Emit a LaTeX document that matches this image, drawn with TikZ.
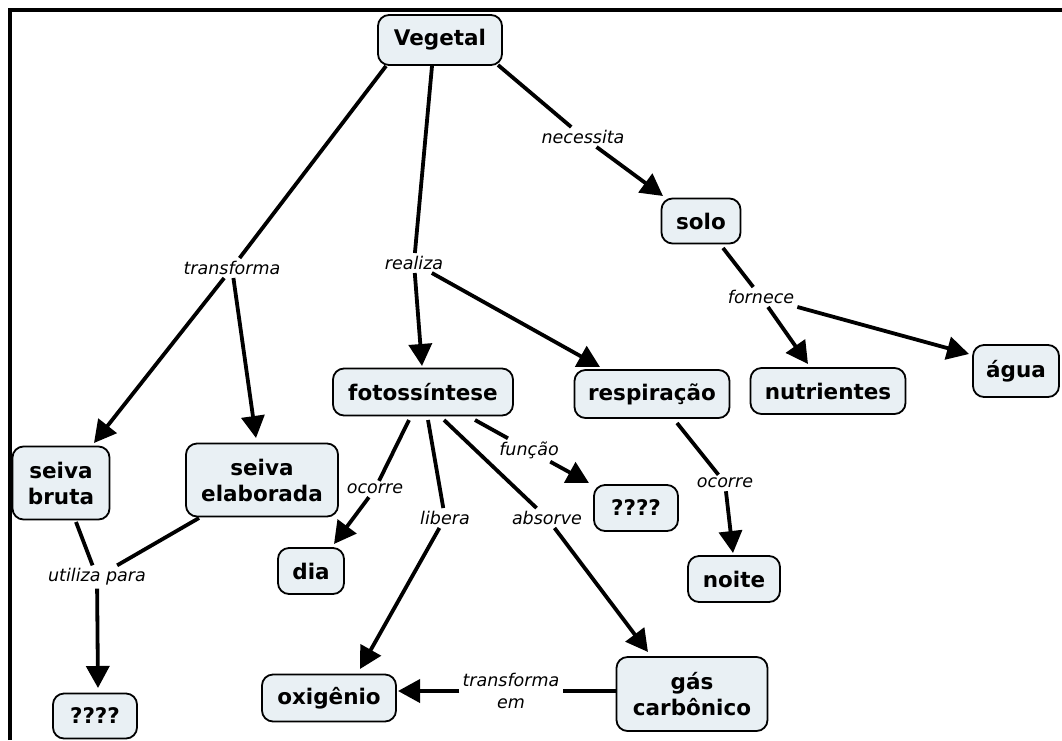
\documentclass[tikz,border=0pt]{standalone}
\usepackage{fontspec}
\setmainfont{DejaVu Sans}
\usetikzlibrary{arrows.meta}
\definecolor{boxfill}{RGB}{233,240,244}
\begin{document}
\begin{tikzpicture}[x=1pt,y=-1pt,
  concept/.style={draw=black, line width=1.8pt, fill=boxfill, rounded corners=11pt,
    align=center, inner sep=0pt, font=\fontsize{21.5}{26}\selectfont\bfseries},
  linkword/.style={font=\fontsize{17.5}{22}\selectfont\itshape, inner sep=3pt, align=center},
  conn/.style={line width=3.8pt},
  arr/.style={conn, -{Triangle[length=22pt,width=23pt]}}]
\useasboundingbox (0,0) rectangle (1062,740);

% frame along the top and left edges
\draw[line width=4pt] (10,740) -- (10,9.5) -- (1062,9.5);

% concepts
\node[concept, minimum width=124pt, minimum height=50pt] (veg)    at (440,40)  {Vegetal};
\node[concept, minimum width=79pt,  minimum height=45pt] (solo)   at (701,221) {solo};
\node[concept, minimum width=86pt,  minimum height=52pt] (agua)   at (1016,371) {água};
\node[concept, minimum width=155pt, minimum height=46pt] (nutr)   at (828,391) {nutrientes};
\node[concept, minimum width=155pt, minimum height=48pt] (resp)   at (652,394) {respiração};
\node[concept, minimum width=180pt, minimum height=47pt] (foto)   at (423,392) {fotossíntese};
\node[concept, minimum width=97pt,  minimum height=73pt] (sbruta) at (61,483)  {seiva\\bruta};
\node[concept, minimum width=152pt, minimum height=73pt] (selab)  at (262,480) {seiva\\elaborada};
\node[concept, minimum width=66pt,  minimum height=46pt] (dia)    at (311,571) {dia};
\node[concept, minimum width=84pt,  minimum height=46pt] (qfun)   at (636,508) {????};
\node[concept, minimum width=92pt,  minimum height=46pt] (noite)  at (734,579) {noite};
\node[concept, minimum width=84pt,  minimum height=45pt] (quso)   at (95,716)  {????};
\node[concept, minimum width=134pt, minimum height=47pt] (oxig)   at (329,698) {oxigênio};
\node[concept, minimum width=151pt, minimum height=74pt] (gas)    at (692,694) {gás\\carbônico};

% linking phrases
\node[linkword] (lnec)  at (583,137) {necessita};
\node[linkword] (ltra)  at (232,268) {transforma};
\node[linkword] (lrea)  at (414,263) {realiza};
\node[linkword] (lfor)  at (761,297) {fornece};
\node[linkword] (lfun)  at (529,450) {função};
\node[linkword] (locd)  at (375,489) {ocorre};
\node[linkword] (locn)  at (725,483) {ocorre};
\node[linkword] (llib)  at (445,518) {libera};
\node[linkword] (labs)  at (547,518) {absorve};
\node[linkword] (luti)  at (97,577)  {utiliza para};
\node[linkword] (ltem)  at (511,691) {transforma\\em};

% Vegetal
\draw[conn] ([shift={(-54,26)}]veg.center) -- (ltra);
\draw[arr]  (ltra) -- ([shift={(33,-40)}]sbruta.center);
\draw[arr]  (ltra) -- ([shift={(-6,-42)}]selab.center);
\draw[conn] ([shift={(-8,26)}]veg.center) -- (lrea);
\draw[arr]  (lrea) -- ([shift={(-1,-26)}]foto.center);
\draw[arr]  (lrea) -- ([shift={(-52,-27)}]resp.center);
\draw[conn] ([shift={(58,25)}]veg.center) -- (lnec);
\draw[arr]  (lnec) -- ([shift={(-38,-25)}]solo.center);

% solo
\draw[conn] ([shift={(22,27)}]solo.center) -- (lfor);
\draw[arr]  (lfor) -- ([shift={(-20,-27)}]nutr.center);
\draw[arr]  (lfor) -- ([shift={(-47,-17)}]agua.center);

% fotossintese
\draw[conn] ([shift={(-14,28)}]foto.center) -- (locd);
\draw[arr]  (locd) -- ([shift={(23,-27)}]dia.center);
\draw[conn] ([shift={(5,28)}]foto.center) -- (llib);
\draw[arr]  (llib) -- ([shift={(31,-29)}]oxig.center);
\draw[conn] ([shift={(21,28)}]foto.center) -- (labs);
\draw[arr]  (labs) -- ([shift={(-44,-42)}]gas.center);
\draw[conn] ([shift={(52,28)}]foto.center) -- (lfun);
\draw[arr]  (lfun) -- ([shift={(-47,-25)}]qfun.center);

% respiracao
\draw[conn] ([shift={(25,29)}]resp.center) -- (locn);
\draw[arr]  (locn) -- ([shift={(-1,-26)}]noite.center);

% seivas
\draw[conn] ([shift={(15,39)}]sbruta.center) -- (luti);
\draw[conn] ([shift={(-63,38)}]selab.center) -- (luti);
\draw[arr]  (luti) -- ([shift={(3,-28)}]quso.center);

% gas carbonico
\draw[conn] ([shift={(-76,-3)}]gas.center) -- (ltem);
\draw[arr]  (ltem) -- ([shift={(69,-7)}]oxig.center);
\end{tikzpicture}
\end{document}
